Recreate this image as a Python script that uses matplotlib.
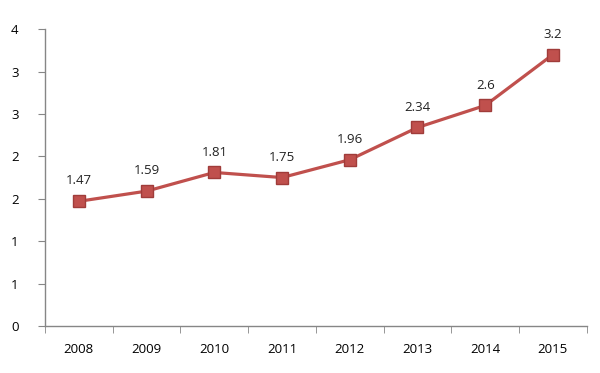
import numpy as np
import matplotlib.pyplot as plt
from matplotlib.ticker import FixedLocator, FixedFormatter

years = ["2008", "2009", "2010", "2011", "2012", "2013", "2014", "2015"]
values = [1.47, 1.59, 1.81, 1.75, 1.96, 2.34, 2.6, 3.2]
ytick_vals = [0, 0.5, 1.0, 1.5, 2.0, 2.5, 3.0, 3.5]
ytick_labels = ["0", "1", "1", "2", "2", "3", "3", "4"]

plt.rcParams['font.family'] = ['Open Sans', 'DejaVu Sans']

fig = plt.figure(figsize=(6, 3.73), dpi=100)
ax = fig.add_axes([0.075, 0.126, 0.903, 0.796])

x = np.arange(len(years))
ax.plot(x, values, color="#c0504d", lw=2.3, marker="s", ms=8,
        markerfacecolor="#c0504d", markeredgecolor="#a03c3a", mew=1)
for xi, v in zip(x, values):
    ax.annotate(f"{v:g}", (xi, v), xytext=(0, 10), textcoords="offset points",
                ha="center", va="bottom", fontsize=9.5, color="#222222")

ax.set_xlim(-0.5, len(years) - 0.5)
ax.set_ylim(0, 3.5)
ax.yaxis.set_major_locator(FixedLocator(ytick_vals))
ax.yaxis.set_major_formatter(FixedFormatter(ytick_labels))
ax.set_xticks(x)
ax.set_xticklabels(years)
ax.set_xticks(np.arange(-0.5, len(years)), minor=True)
ax.tick_params(axis="x", which="major", length=0, pad=12, labelsize=9.5)
ax.tick_params(axis="x", which="minor", length=5, color="#868686", direction="out")
ax.tick_params(axis="y", length=5, color="#868686", pad=14, labelsize=9.5)

for s in ["top", "right"]:
    ax.spines[s].set_visible(False)
for s in ["left", "bottom"]:
    ax.spines[s].set_color("#868686")
    ax.spines[s].set_linewidth(1)

fig.savefig("out.png", dpi=100)
